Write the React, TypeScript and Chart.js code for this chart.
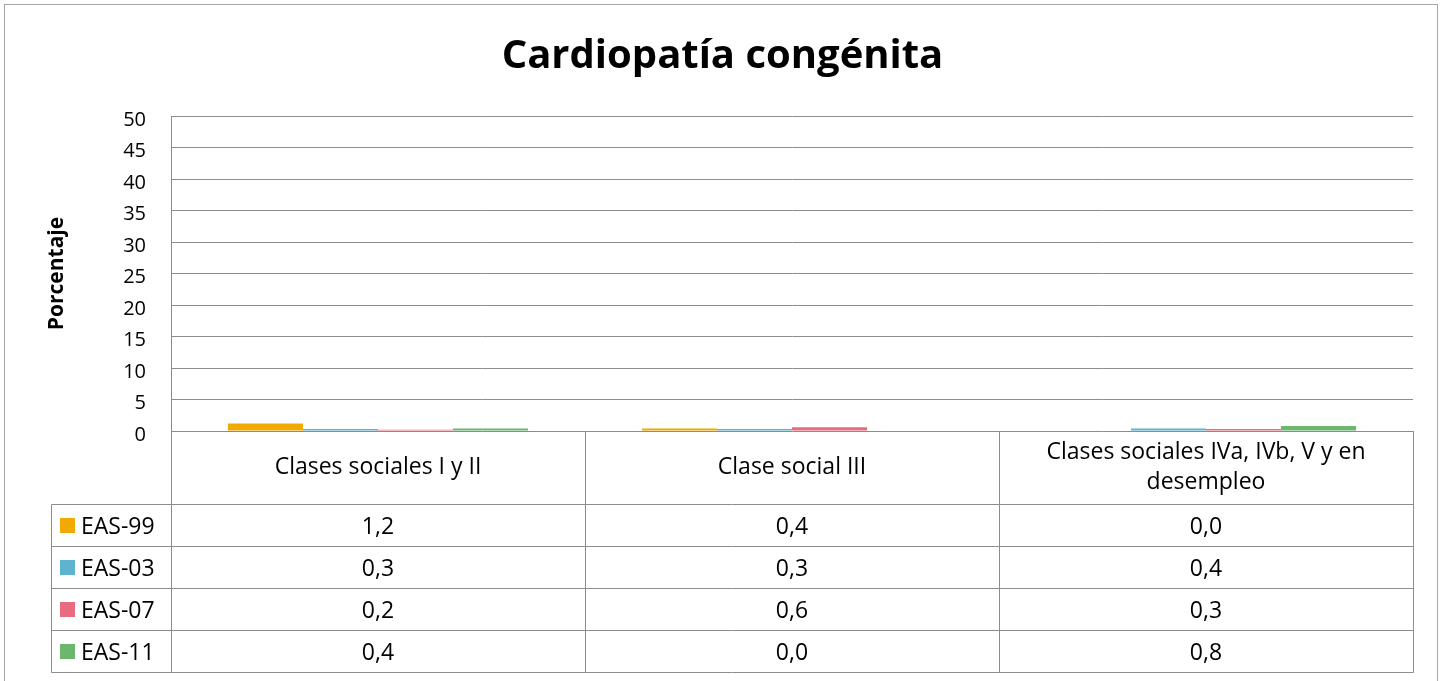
import React, { useEffect, useRef } from "react";
import { Chart, registerables } from "chart.js";

Chart.register(...registerables);

// ---- data ----
const categories: string[] = [
  "Clases sociales I y II",
  "Clase social III",
  "Clases sociales IVa, IVb, V y en desempleo",
];
const seriesNames: string[] = ["EAS-99", "EAS-03", "EAS-07", "EAS-11"];
const eas99: number[] = [1.2, 0.4, 0.0];
const eas03: number[] = [0.3, 0.3, 0.4];
const eas07: number[] = [0.2, 0.6, 0.3];
const eas11: number[] = [0.4, 0.0, 0.8];
const seriesColors: string[] = ["#F0AA00", "#5FB3CE", "#E76C7E", "#6BB76E"];
const chartTitle = "Cardiopatía congénita";
const yAxisTitle = "Porcentaje";
const yMin = 0;
const yMax = 50;
const yStep = 5;

// ---- styling ----
const FONT = "'Open Sans', sans-serif";
const GRID = "#8c8c8c";
const HEADER_H = 73;
const ROW_H = 42;
const LEGEND_LEFT = 51;

const fmt = (v: number) => v.toFixed(1).replace(".", ",");

function wrap(ctx: CanvasRenderingContext2D, text: string, maxW: number): string[] {
  const words = text.split(" ");
  const lines: string[] = [];
  let cur = "";
  for (const w of words) {
    const t = cur ? cur + " " + w : w;
    if (ctx.measureText(t).width > maxW && cur) {
      lines.push(cur);
      cur = w;
    } else cur = t;
  }
  if (cur) lines.push(cur);
  return lines;
}

const tablePlugin = {
  id: "dataTable",
  beforeDraw(chart: any) {
    const ctx = chart.ctx as CanvasRenderingContext2D;
    ctx.save();
    ctx.fillStyle = "#ffffff";
    ctx.fillRect(0, 0, chart.width, chart.height);
    ctx.strokeStyle = "#a6a6a6";
    ctx.lineWidth = 1;
    ctx.strokeRect(4.5, 4.5, 1433, chart.height + 10);
    ctx.restore();
  },
  afterDraw(chart: any) {
    const ctx = chart.ctx as CanvasRenderingContext2D;
    const area = chart.chartArea;
    const xs = chart.scales.x;
    const labels: string[] = chart.data.labels;
    const n = labels.length;
    const colW = (area.right - area.left) / n;
    const top = area.bottom;
    const headerBottom = top + HEADER_H;
    const datasets = chart.data.datasets;
    const tableBottom = headerBottom + ROW_H * datasets.length;
    const px = (v: number) => Math.round(v) + 0.5;

    ctx.save();
    ctx.strokeStyle = GRID;
    ctx.lineWidth = 1;
    ctx.beginPath();
    for (let i = 0; i <= n; i++) {
      const x = px(area.left + i * colW);
      ctx.moveTo(x, Math.round(top));
      ctx.lineTo(x, px(tableBottom));
    }
    ctx.moveTo(px(LEGEND_LEFT), px(headerBottom));
    ctx.lineTo(px(LEGEND_LEFT), px(tableBottom));
    for (let r = 0; r <= datasets.length; r++) {
      const y = px(headerBottom + r * ROW_H);
      ctx.moveTo(px(LEGEND_LEFT), y);
      ctx.lineTo(px(area.right), y);
    }
    ctx.stroke();

    ctx.fillStyle = "#000";
    ctx.textAlign = "center";
    ctx.textBaseline = "middle";
    ctx.font = `23px ${FONT}`;
    // header labels
    labels.forEach((lab, i) => {
      const cx = xs.getPixelForValue(i);
      const lines = wrap(ctx, lab, colW - 40);
      const lh = 30;
      const cy = top + HEADER_H / 2;
      lines.forEach((ln, k) => {
        ctx.fillText(ln, cx, cy + (k - (lines.length - 1) / 2) * lh);
      });
    });
    // rows
    datasets.forEach((ds: any, r: number) => {
      const cy = headerBottom + r * ROW_H + ROW_H / 2 + 2;
      ctx.fillStyle = ds.backgroundColor;
      ctx.fillRect(LEGEND_LEFT + 9, cy - 9, 15, 15);
      ctx.fillStyle = "#000";
      ctx.textAlign = "left";
      ctx.fillText(ds.label, LEGEND_LEFT + 30, cy);
      ctx.textAlign = "center";
      ds.data.forEach((v: number, i: number) => {
        ctx.fillText(fmt(v), xs.getPixelForValue(i), cy);
      });
    });
    ctx.restore();
  },
};

export default function App() {
  const ref = useRef<HTMLCanvasElement>(null);
  useEffect(() => {
    document.body.style.margin = "0";
    const canvas = ref.current!;
    const seriesValues = [eas99, eas03, eas07, eas11];
    const chart = new Chart(canvas, {
      type: "bar",
      data: {
        labels: categories,
        datasets: seriesNames.map((name, i) => ({
          label: name,
          data: seriesValues[i],
          backgroundColor: seriesColors[i],
          borderWidth: 0,
          categoryPercentage: 0.725,
          barPercentage: 1,
        })),
      },
      options: {
        responsive: false,
        animation: false,
        devicePixelRatio: 1,
        layout: { padding: { left: 16, right: 16, top: 0, bottom: 0 } },
        plugins: {
          legend: { display: false },
          tooltip: { enabled: false },
          title: {
            display: true,
            text: chartTitle,
            color: "#000",
            font: { family: FONT, size: 40, weight: "bold", lineHeight: 1.2 },
            padding: { top: 33, bottom: 35 },
          },
        },
        scales: {
          x: {
            grid: { display: false },
            border: { display: false },
            ticks: { display: false },
            afterFit: (s: any) => {
              s.height = 250;
            },
          },
          y: {
            min: yMin,
            max: yMax,
            ticks: {
              stepSize: yStep,
              color: "#000",
              padding: 25,
              labelOffset: 4,
              font: { family: FONT, size: 20 },
            },
            grid: { color: GRID, drawTicks: false },
            border: { color: GRID },
            title: {
              display: true,
              text: yAxisTitle,
              color: "#000",
              font: { family: FONT, size: 21, weight: "bold" },
              padding: { top: 28, bottom: 0 },
            },
            afterFit: (s: any) => {
              s.width = 155;
            },
          },
          yRight: {
            position: "right",
            display: true,
            grid: { display: false },
            border: { display: false },
            ticks: { display: false },
            afterFit: (s: any) => {
              s.width = 16;
            },
          },
        },
      } as any,
      plugins: [tablePlugin],
    });
    return () => chart.destroy();
  }, []);
  return <canvas ref={ref} width={1445} height={681} style={{ display: "block" }} />;
}
